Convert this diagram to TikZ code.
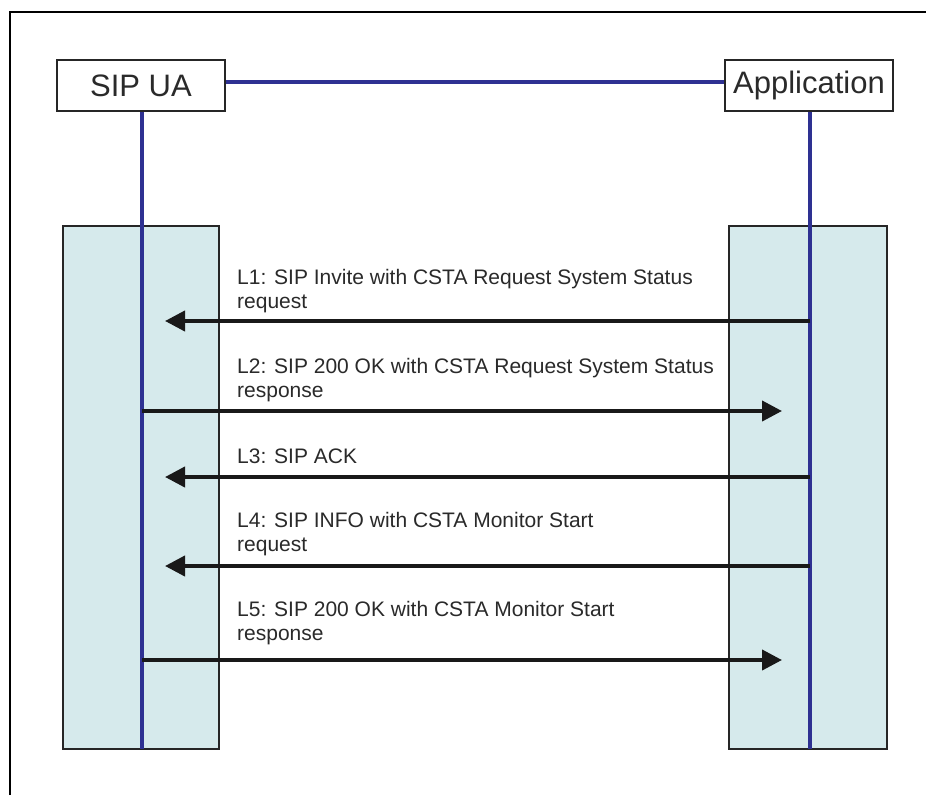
\documentclass[tikz,border=0pt]{standalone}
\usepackage{fontspec}
\setmainfont{Liberation Sans}
\usetikzlibrary{arrows.meta}
\definecolor{lifeblue}{HTML}{2E3192}
\definecolor{actfill}{HTML}{D6EAEC}
\definecolor{txtgray}{HTML}{2A2A2A}
\begin{document}
\begin{tikzpicture}[x=1pt,y=-1pt,
  headbox/.style={draw=black!85,line width=2pt,fill=white,minimum width=168pt,minimum height=51pt,inner sep=0pt,font=\fontsize{31}{36}\selectfont,text=txtgray},
  actbox/.style={draw=black!85,line width=2pt,fill=actfill,inner sep=0pt},
  lifeline/.style={draw=lifeblue,line width=4.5pt},
  msg/.style={draw=black!90,line width=4pt,-{Triangle[length=20pt,width=20pt]}},
  lbl/.style={anchor=base west,inner sep=0pt,align=left,font=\fontsize{21}{24}\selectfont,text=txtgray}]
\useasboundingbox (0,0) rectangle (926,795);
\fill[white] (0,0) rectangle (926,795);
% outer frame (cut off at right and bottom)
\draw[line width=2pt,black] (10,795) -- (10,12) -- (926,12);
% activation boxes
\node[actbox,minimum width=156pt,minimum height=523pt] (ubox) at (141,487.5) {};
\node[actbox,minimum width=158pt,minimum height=523pt] (abox) at (808,487.5) {};
% header boxes
\node[headbox] (ua) at (141,85.5) {SIP UA};
\node[headbox] (app) at (809,85.5) {Application};
% connection line between headers
\draw[lifeline] (ua.east |- 0,82) -- (app.west |- 0,82);
% lifelines
\coordinate (uaend) at (142,749);
\coordinate (append) at (810,749);
\draw[lifeline] (ua.south -| uaend) -- (uaend);
\draw[lifeline] (app.south -| append) -- (append);
% messages
\coordinate (a1s) at (810,321); \coordinate (a1e) at (165,321);
\coordinate (a2s) at (142,411); \coordinate (a2e) at (782,411);
\coordinate (a3s) at (810,477); \coordinate (a3e) at (165,477);
\coordinate (a4s) at (810,566); \coordinate (a4e) at (165,566);
\coordinate (a5s) at (142,660); \coordinate (a5e) at (782,660);
\draw[msg] (a1s) -- (a1e);
\draw[msg] (a2s) -- (a2e);
\draw[msg] (a3s) -- (a3e);
\draw[msg] (a4s) -- (a4e);
\draw[msg] (a5s) -- (a5e);
% labels (base anchor = baseline of last line)
\node[lbl] (l1) at (237,308) {L1: SIP Invite with CSTA Request System Status\\request};
\node[lbl] (l2) at (237,397) {L2: SIP 200 OK with CSTA Request System Status\\response};
\node[lbl] (l3) at (237,463) {L3: SIP ACK};
\node[lbl] (l4) at (237,551) {L4: SIP INFO with CSTA Monitor Start\\request};
\node[lbl] (l5) at (237,640) {L5: SIP 200 OK with CSTA Monitor Start\\response};
\end{tikzpicture}
\end{document}
